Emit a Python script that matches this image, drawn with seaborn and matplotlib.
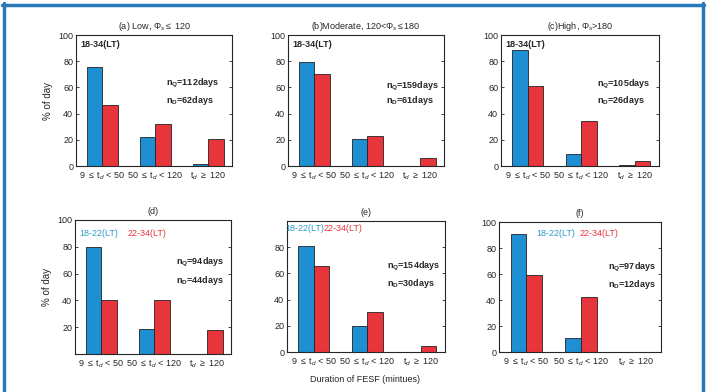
import numpy as np
import pandas as pd
import matplotlib
matplotlib.use('Agg')
import matplotlib.pyplot as plt
import seaborn as sns
from matplotlib.lines import Line2D

sns.set_style('ticks')
plt.rcParams['font.family'] = ['Liberation Sans', 'DejaVu Sans']
plt.rcParams['mathtext.fontset'] = 'custom'
plt.rcParams['mathtext.rm'] = 'Liberation Sans'
plt.rcParams['mathtext.it'] = 'Liberation Sans:italic'
plt.rcParams['mathtext.bf'] = 'Liberation Sans:bold'

# categories (duration bins) and groups
categories = [r'9 $\leq$ t$_d$ < 50', r'50 $\leq$ t$_d$ < 120', r't$_d$ $\geq$ 120']
groups = ['first', 'second']

# % of day, panel by panel: [blue, red] per category
pct_a_blue = [75.8, 22.4, 1.5]
pct_a_red = [46.8, 32.0, 20.9]
pct_b_blue = [79.4, 20.4, 0.0]
pct_b_red = [70.5, 22.9, 6.1]
pct_c_blue = [88.7, 9.3, 0.6]
pct_c_red = [60.8, 34.2, 3.5]
pct_d_blue = [80.1, 18.9, 0.0]
pct_d_red = [40.2, 40.2, 17.6]
pct_e_blue = [80.7, 19.6, 0.0]
pct_e_red = [66.0, 30.6, 4.2]
pct_f_blue = [90.5, 11.0, 0.0]
pct_f_red = [59.5, 42.3, 0.0]

titles = [r'(a) Low, $\Phi_s\leq$ 120', r'(b)Moderate, 120<$\Phi_s\leq$180',
          r'(c)High, $\Phi_s$>180', '(d)', '(e)', '(f)']
n_quiet = ['112', '159', '105', '94', '154', '97']
n_dist = ['62', '61', '26', '44', '30', '12']

blue = '#1e8fd2'
red = '#e8353c'
teal = '#2a9ac8'

panels = [(pct_a_blue, pct_a_red), (pct_b_blue, pct_b_red), (pct_c_blue, pct_c_red),
          (pct_d_blue, pct_d_red), (pct_e_blue, pct_e_red), (pct_f_blue, pct_f_red)]

# axes boxes in pixels (left, top, right, bottom)
boxes = [(76, 35, 232, 166), (288, 35, 444, 166), (501, 35, 659, 166),
         (75, 220, 231, 354), (287, 221, 445, 352), (499, 222, 661, 352)]
# annotation positions (axes fraction) for n_Q / n_D
ann = [(0.58, 0.63, 0.50), (0.63, 0.61, 0.50), (0.61, 0.62, 0.50),
       (0.65, 0.68, 0.55), (0.63, 0.65, 0.52), (0.67, 0.65, 0.52)]

W, H = 712, 392
fig = plt.figure(figsize=(W / 100, H / 100), dpi=100)

for i, ((b, r), (l, t, rr, bt)) in enumerate(zip(panels, boxes)):
    ax = fig.add_axes([l / W, 1 - bt / H, (rr - l) / W, (bt - t) / H])
    df = pd.DataFrame({
        'cat': categories * 2,
        'group': [groups[0]] * 3 + [groups[1]] * 3,
        'pct': b + r,
    })
    sns.barplot(data=df, x='cat', y='pct', hue='group', order=categories,
                palette=[blue, red], saturation=1, width=0.58, gap=0,
                edgecolor='#222222', linewidth=0.6, legend=False, ax=ax)
    ax.set_xlim(-0.5, 2.45)
    ax.set_ylim(0, 100)
    if i == 3:
        ax.set_yticks([20, 40, 60, 80, 100])
    elif i == 4:
        ax.set_yticks([0, 20, 40, 60, 80])
    else:
        ax.set_yticks([0, 20, 40, 60, 80, 100])
    for s in ax.spines.values():
        s.set_visible(True)
        s.set_linewidth(0.8)
    ax.tick_params(direction='in', right=True, length=2.5, width=0.6,
                   labelsize=6.5, pad=2)
    ax.tick_params(axis='x', length=0, pad=3)
    ax.set_xlabel('')
    ax.set_ylabel('% of day' if i in (0, 3) else '', fontsize=7, labelpad=4)
    ax.set_title(titles[i], fontsize=6.5, pad=4)

    x0, yq, yd = ann[i]
    ax.text(x0, yq, r'n$_\mathbf{Q}$=' + n_quiet[i] + 'days', transform=ax.transAxes,
            fontsize=6.5, fontweight='bold', ha='left', va='center')
    ax.text(x0, yd, r'n$_\mathbf{D}$=' + n_dist[i] + 'days', transform=ax.transAxes,
            fontsize=6.5, fontweight='bold', ha='left', va='center')

    if i < 3:
        ax.text(0.03, 0.965, '18-34(LT)', transform=ax.transAxes, fontsize=6.5,
                fontweight='bold', ha='left', va='top')
    else:
        lx = {3: (0.03, 0.34), 4: (-0.01, 0.23), 5: (0.23, 0.50)}[i]
        ly = {3: 0.935, 4: 0.98, 5: 0.95}[i]
        ax.text(lx[0], ly, '18-22(LT)', transform=ax.transAxes, fontsize=6.5,
                color=teal, ha='left', va='top')
        ax.text(lx[1], ly, '22-34(LT)', transform=ax.transAxes, fontsize=6.5,
                color=red, ha='left', va='top')

fig.text(365 / W, 1 - 380 / H, 'Duration of FESF (mintues)', fontsize=6.5,
         ha='center', va='center')

# blue frame around the figure
frame = '#2a78b8'
fig.add_artist(Line2D([3.5 / W, 3.5 / W], [0, 1 - 3 / H], color=frame, lw=2.5,
                      transform=fig.transFigure))
fig.add_artist(Line2D([2 / W, 704 / W], [1 - 4.5 / H, 1 - 4.5 / H], color=frame,
                      lw=2.5, transform=fig.transFigure))
fig.add_artist(Line2D([702.5 / W, 702.5 / W], [0, 1 - 3 / H], color=frame, lw=2.5,
                      transform=fig.transFigure))

fig.savefig('out.png', dpi=100)
